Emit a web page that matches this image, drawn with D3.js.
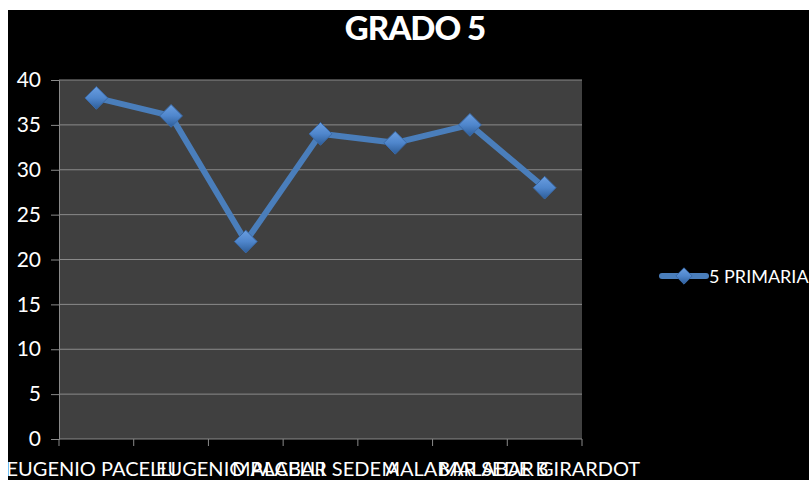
<!DOCTYPE html>
<html>
<head>
<meta charset="utf-8">
<script src="https://cdn.jsdelivr.net/npm/d3@7"></script>
<style>
  body { margin: 0; background: #fff; }
  text { font-family: Lato, "Open Sans", sans-serif; }
</style>
</head>
<body>
<div id="chart-container"></div>
<script>
// Data
const categories = ["EUGENIO PACELLI", "EUGENIO PACELLI B", "EUGENIO PACELLI C", "MALABAR SEDE A", "MALABAR", "MALABAR SEDE B", "MALABAR GIRARDOT"];
const tickLabels = ["EUGENIO PACELLI", "", "EUGENIO PACELLI", "MALABAR SEDE A", "", "MALABAR SEDE B", "MALABAR GIRARDOT"];
const values = [38, 36, 22, 34, 33, 35, 28];
const yTicks = [0, 5, 10, 15, 20, 25, 30, 35, 40];
const seriesName = "5 PRIMARIA";
const title = "GRADO 5";

const W = 809, H = 480;
const margin = { top: 80, right: 227, bottom: 41, left: 59 };
const width = W - margin.left - margin.right;
const height = H - margin.top - margin.bottom;
const blue = "#4a7ebb";

const root = d3.select("#chart-container")
  .append("svg")
  .attr("width", W)
  .attr("height", H);

// diamond gradient for markers
const defs = root.append("defs");
const grad = defs.append("linearGradient")
  .attr("id", "mk").attr("x1", 0).attr("y1", 0).attr("x2", 0).attr("y2", 1);
grad.append("stop").attr("offset", "0%").attr("stop-color", "#6a9ee0");
grad.append("stop").attr("offset", "50%").attr("stop-color", "#4f86cc");
grad.append("stop").attr("offset", "100%").attr("stop-color", "#2d5d99");

// black chart area
root.append("rect")
  .attr("x", 8).attr("y", 10)
  .attr("width", W - 8).attr("height", H - 10)
  .attr("fill", "#000");

root.append("text")
  .attr("x", 415).attr("y", 40)
  .attr("text-anchor", "middle")
  .attr("fill", "#fff")
  .attr("font-size", 33)
  .attr("font-weight", "900")
  .attr("letter-spacing", -1)
  .text(title);

const svg = root.append("g")
  .attr("transform", `translate(${margin.left},${margin.top})`);

const xScale = d3.scaleBand()
  .domain(categories)
  .range([0, width]);

const yScale = d3.scaleLinear()
  .domain([0, 40])
  .range([height, 0]);

// plot background
svg.append("rect")
  .attr("width", width).attr("height", height)
  .attr("fill", "#404040");

// gridlines
svg.append("g")
  .selectAll("line")
  .data(yTicks.filter(d => d > 0))
  .join("line")
  .attr("x1", 0).attr("x2", width)
  .attr("y1", d => yScale(d)).attr("y2", d => yScale(d))
  .attr("stroke", "#8a8a8a")
  .attr("stroke-width", 1);

// Y axis
const yAxis = svg.append("g")
  .call(d3.axisLeft(yScale).tickValues(yTicks).tickSize(8).tickPadding(10));
yAxis.select(".domain").attr("stroke", "#8a8a8a");
yAxis.selectAll(".tick line").attr("stroke", "#8a8a8a");
yAxis.selectAll("text")
  .attr("fill", "#fff")
  .attr("font-size", 21)
  .attr("font-family", "Lato, sans-serif");

// X axis: line and boundary ticks
const xg = svg.append("g").attr("transform", `translate(0,${height})`);
xg.append("line")
  .attr("x1", 0).attr("x2", width)
  .attr("stroke", "#8a8a8a");
xg.selectAll("line.tk")
  .data(categories.map(c => xScale(c)).concat([width]))
  .join("line")
  .attr("class", "tk")
  .attr("x1", d => d).attr("x2", d => d)
  .attr("y1", 0).attr("y2", 7)
  .attr("stroke", "#8a8a8a");
xg.selectAll("text")
  .data(tickLabels)
  .join("text")
  .attr("x", (d, i) => xScale(categories[i]) + xScale.bandwidth() / 2 - 5)
  .attr("y", 37)
  .attr("text-anchor", "middle")
  .attr("fill", "#fff")
  .attr("font-size", 20)
  .text(d => d);

// line
const line = d3.line()
  .x((d, i) => xScale(categories[i]) + xScale.bandwidth() / 2)
  .y(d => yScale(d));

svg.append("path")
  .datum(values)
  .attr("fill", "none")
  .attr("stroke", blue)
  .attr("stroke-width", 6)
  .attr("stroke-linejoin", "round")
  .attr("d", line);

const diamond = d3.symbol().type(d3.symbolDiamond2).size(330);

svg.selectAll("path.mk")
  .data(values)
  .join("path")
  .attr("class", "mk")
  .attr("transform", (d, i) => `translate(${xScale(categories[i]) + xScale.bandwidth() / 2},${yScale(d)})`)
  .attr("d", diamond)
  .attr("fill", "url(#mk)")
  .attr("stroke", "#3a6aa8")
  .attr("stroke-width", 1);

// legend
const lg = root.append("g").attr("transform", "translate(662,276)");
lg.append("line")
  .attr("x1", 0).attr("x2", 44)
  .attr("stroke", blue)
  .attr("stroke-width", 6)
  .attr("stroke-linecap", "round");
lg.append("path")
  .attr("transform", "translate(22,0)")
  .attr("d", d3.symbol().type(d3.symbolDiamond2).size(170))
  .attr("fill", "url(#mk)")
  .attr("stroke", "#3a6aa8");
lg.append("text")
  .attr("x", 47).attr("y", 7)
  .attr("fill", "#fff")
  .attr("font-size", 18)
  .text(seriesName);
</script>
</body>
</html>
